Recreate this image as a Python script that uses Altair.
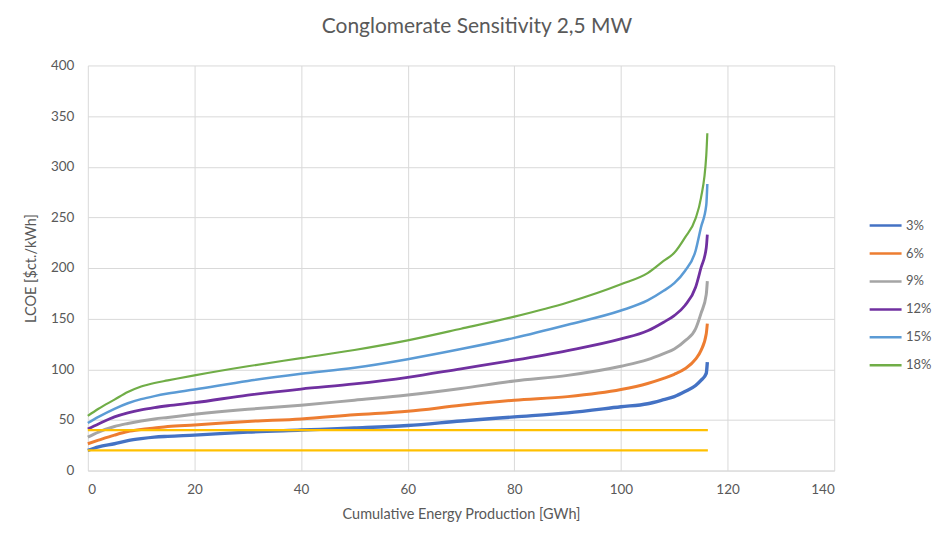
import altair as alt
import pandas as pd

# ---- data ----
x_pts = [0, 2, 5, 7.5, 10, 12.5, 15, 20, 30, 40, 50, 60, 70, 80, 90, 100, 105, 108, 110, 112, 114, 115, 116, 116.2]

series_names = ["3%", "6%", "9%", "12%", "15%", "18%"]

lcoe_3 = [20, 23.5, 26.5, 29.5, 31.5, 33, 33.8, 35, 38, 40, 42, 44.5, 49, 53, 57, 63, 66, 70, 73, 78, 84, 89, 96, 107]
lcoe_6 = [26.5, 30, 35, 38.5, 40.5, 42, 43.5, 45, 48.5, 51, 55, 58.5, 64.5, 69.5, 73, 80, 86, 91, 95, 100.5, 110, 118.5, 135, 145]
lcoe_9 = [33, 38, 43.5, 46.5, 49, 51, 52.5, 55.5, 60.5, 64.5, 69.5, 74.5, 81, 88.5, 94, 103, 109.5, 115.5, 120, 128, 140, 155, 174, 187]
lcoe_12 = [41, 46, 53, 57, 60, 62.2, 64, 67, 74.5, 80.5, 85.5, 92, 100.5, 109, 118.5, 130, 138, 146.5, 153, 163, 181, 200, 220, 233]
lcoe_15 = [47, 53, 61, 66.5, 70.5, 73.5, 76, 80, 88.5, 95.5, 101.5, 110, 120, 131, 144, 158, 168, 177.5, 185, 197, 217, 240, 262, 283]
lcoe_18 = [54, 61, 70, 77.5, 83, 86.5, 89, 94, 103, 111, 119, 128.5, 140, 152, 166, 184, 195, 207, 215, 230, 249, 269, 311, 333]

ref_levels = [20, 40]
ref_x = [0, 116.3]

x_ticks = [0, 20, 40, 60, 80, 100, 120, 140]
y_ticks = [0, 50, 100, 150, 200, 250, 300, 350, 400]

# ---- styles ----
colors = ["#4472C4", "#ED7D31", "#A5A5A5", "#7030A0", "#5B9BD5", "#70AD47"]
widths = [3.4, 3.0, 3.0, 2.8, 2.5, 2.2]
FONT = "Lato"
TXT = "#595959"

all_vals = [lcoe_3, lcoe_6, lcoe_9, lcoe_12, lcoe_15, lcoe_18]
rows = []
for name, vals, w in zip(series_names, all_vals, widths):
    for i, (x, v) in enumerate(zip(x_pts, vals)):
        rows.append({"x": x, "y": v, "series": name, "w": w, "o": i})
df = pd.DataFrame(rows)

ref_df = pd.DataFrame([{"x": x, "y": lv, "lvl": str(lv)} for lv in ref_levels for x in ref_x])

x_enc = alt.X(
    "x:Q",
    scale=alt.Scale(domain=[0, 140], nice=False),
    axis=alt.Axis(values=x_ticks, title="Cumulative Energy Production [GWh]"),
)
y_enc = alt.Y(
    "y:Q",
    scale=alt.Scale(domain=[0, 400], nice=False),
    axis=alt.Axis(values=y_ticks, title="LCOE [$ct./kWh]"),
)

lines = alt.Chart(df).mark_line(interpolate="monotone").encode(
    x=x_enc,
    y=y_enc,
    color=alt.Color(
        "series:N",
        sort=series_names,
        scale=alt.Scale(domain=series_names, range=colors),
        legend=alt.Legend(
            title=None,
            orient="none",
            legendX=782,
            legendY=143,
            symbolType="stroke",
            symbolSize=1024,
            symbolStrokeWidth=2.5,
            labelFont=FONT,
            labelFontSize=13,
            labelColor=TXT,
            labelOffset=3,
            rowPadding=3,
        ),
    ),
    strokeWidth=alt.StrokeWidth("w:Q", scale=None),
    order=alt.Order("o:Q"),
)

refs = alt.Chart(ref_df).mark_line(color="#FFC000", strokeWidth=2.2).encode(
    x="x:Q",
    y="y:Q",
    detail="lvl:N",
)

chart = (
    alt.layer(lines, refs)
    .properties(
        width=748,
        height=406,
        autosize=alt.AutoSizeParams(type="none"),
        padding={"left": 80, "top": 57, "right": 100, "bottom": 60},
        title=alt.TitleParams(
            "Conglomerate Sensitivity 2,5 MW",
            font=FONT,
            fontSize=21,
            fontWeight="normal",
            color=TXT,
            anchor="middle",
            offset=22,
            dx=16,
        ),
    )
    .configure_view(strokeWidth=0)
    .configure_axis(
        labelFont=FONT,
        labelFontSize=13.5,
        labelColor=TXT,
        titleFont=FONT,
        titleFontSize=14.5,
        titleFontWeight="normal",
        titleColor=TXT,
        gridColor="#D9D9D9",
        gridWidth=1,
        ticks=False,
    )
    .configure_axisX(domainColor="#D9D9D9", domainWidth=1, labelPadding=12, titlePadding=12)
    .configure_axisY(domain=False, labelPadding=14, titlePadding=12)
)

chart.save("out.html", embed_options={"renderer": "svg", "actions": False})
